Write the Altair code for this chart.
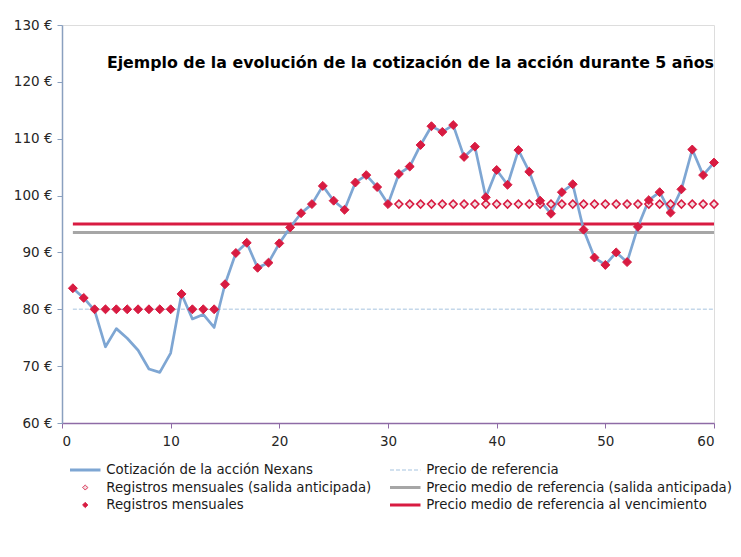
import altair as alt
import pandas as pd

# ---------------- data ----------------
meses = list(range(1, 61))
cotizacion = [83.7, 82.0, 79.8, 73.4, 76.6, 74.9, 72.8, 69.5, 68.9, 72.3,
              82.7, 78.3, 79.1, 76.8, 84.4, 89.9, 91.7, 87.3, 88.2, 91.6,
              94.4, 96.9, 98.5, 101.7, 99.1, 97.5, 102.3, 103.6, 101.5, 98.5,
              103.8, 105.1, 108.9, 112.2, 111.2, 112.4, 106.8, 108.6, 99.7, 104.5,
              101.9, 108.0, 104.2, 99.1, 96.8, 100.6, 102.0, 94.0, 89.1, 87.8,
              90.0, 88.3, 94.5, 99.2, 100.6, 97.0, 101.1, 108.1, 103.6, 105.8]
registros = [83.7, 82.0, 80.0, 80.0, 80.0, 80.0, 80.0, 80.0, 80.0, 80.0,
             82.7, 80.0, 80.0, 80.0, 84.4, 89.9, 91.7, 87.3, 88.2, 91.6,
             94.4, 96.9, 98.5, 101.7, 99.1, 97.5, 102.3, 103.6, 101.5, 98.5,
             103.8, 105.1, 108.9, 112.2, 111.2, 112.4, 106.8, 108.6, 99.7, 104.5,
             101.9, 108.0, 104.2, 99.1, 96.8, 100.6, 102.0, 94.0, 89.1, 87.8,
             90.0, 88.3, 94.5, 99.2, 100.6, 97.0, 101.1, 108.1, 103.6, 105.8]
meses_salida = list(range(31, 61))
registros_salida = [98.5] * 30

ref_series = ["Precio de referencia",
              "Precio medio de referencia (salida anticipada)",
              "Precio medio de referencia al vencimiento"]
ref_values = [80.0, 93.5, 95.0]
ref_desde = [1, 1, 1]
ref_hasta = [60, 60, 60]

S_COT = "Cotización de la acción Nexans"
S_REF = "Precio de referencia"
S_RSA = "Registros mensuales (salida anticipada)"
S_PMS = "Precio medio de referencia (salida anticipada)"
S_REG = "Registros mensuales"
S_PMV = "Precio medio de referencia al vencimiento"

# legend order (column-major: left column first, then right column)
series = [S_COT, S_RSA, S_REG, S_REF, S_PMS, S_PMV]
stroke_colors = ["#7ea6d3", "#d81b41", "#d81b41", "#c4d7ea", "#a6a6a6", "#d81b41"]
fill_colors = ["transparent", "#f1dfe3", "#d81b41", "transparent", "transparent", "transparent"]
shapes = ["stroke", "diamond", "diamond", "stroke", "stroke", "stroke"]
dashes = [[1, 0], [1, 0], [1, 0], [4, 2], [1, 0], [1, 0]]

y_ticks = [60, 70, 80, 90, 100, 110, 120, 130]
x_ticks = [0, 10, 20, 30, 40, 50, 60]
titulo = "Ejemplo de la evolución de la cotización de la acción durante 5 años"

# ---------------- tables ----------------
df_line = pd.DataFrame({"mes": meses, "valor": cotizacion, "serie": S_COT})
df_reg = pd.DataFrame({"mes": meses, "valor": registros, "serie": S_REG})
df_sal = pd.DataFrame({"mes": meses_salida, "valor": registros_salida, "serie": S_RSA})
df_ref = pd.DataFrame({"serie": ref_series, "valor": ref_values,
                       "mes": ref_desde, "mes2": ref_hasta})

FONT = "DejaVu Sans"

size_expr = ("(datum.value == '%s' ? 28 : datum.value == '%s' ? 26 : 930)" % (S_REG, S_RSA))
sw_expr = ("(datum.value == '%s' || datum.value == '%s' ? 1 : datum.value == '%s' ? 1.5 : 3)"
           % (S_REG, S_RSA, S_REF))

leg = alt.Legend(orient="none", legendX=6.25, legendY=436.5, columns=2, title=None,
                 padding=0, labelFont=FONT, labelFontSize=13.3, labelColor="#1a1a1a",
                 labelLimit=500, labelOffset=4, columnPadding=17, rowPadding=0.5,
                 clipHeight=17, symbolSize={"expr": size_expr},
                 symbolStrokeWidth={"expr": sw_expr}, symbolFillColor="transparent")

stroke_enc = alt.Stroke("serie:N", scale=alt.Scale(domain=series, range=stroke_colors), legend=leg)
fill_enc = alt.Fill("serie:N", scale=alt.Scale(domain=series, range=fill_colors), legend=leg)
shape_enc = alt.Shape("serie:N", scale=alt.Scale(domain=series, range=shapes), legend=leg)
dash_enc = alt.StrokeDash("serie:N", scale=alt.Scale(domain=series, range=dashes), legend=leg)

x_axis = alt.Axis(values=x_ticks, format="d", title=None, grid=False,
                  domainColor="#8e6ba6", tickColor="#8e6ba6", domainWidth=1.5,
                  tickSize=5, labelFont=FONT, labelFontSize=13.5, labelColor="#262626",
                  labelPadding=6)
y_axis = alt.Axis(values=y_ticks, labelExpr="datum.value + ' €'", title=None, grid=False,
                  domainColor="#8aa0bf", tickColor="#8aa0bf", domainWidth=1.5,
                  tickSize=5, labelFont=FONT, labelFontSize=13.5, labelColor="#262626",
                  labelPadding=5)

X = alt.X("mes:Q", scale=alt.Scale(domain=[0, 60], nice=False), axis=x_axis)
Y = alt.Y("valor:Q", scale=alt.Scale(domain=[60, 130], nice=False, zero=False), axis=y_axis)

line = alt.Chart(df_line).mark_line(strokeWidth=2.7, strokeJoin="round").encode(
    x=X, y=Y, stroke=stroke_enc)

rules_solid = alt.Chart(df_ref).transform_filter(
    alt.datum.serie != S_REF).mark_rule(strokeWidth=3).encode(
    x=X, x2="mes2:Q", y=Y, stroke=stroke_enc, strokeDash=dash_enc)

rule_dash = alt.Chart(df_ref).transform_filter(
    alt.datum.serie == S_REF).mark_rule(strokeWidth=1.5).encode(
    x=X, x2="mes2:Q", y=Y, stroke=stroke_enc, strokeDash=dash_enc)

pts_sal = alt.Chart(df_sal).mark_point(filled=True, size=64, strokeWidth=1.5, opacity=1).encode(
    x=X, y=Y, fill=fill_enc, stroke=stroke_enc, shape=shape_enc)

pts_reg = alt.Chart(df_reg).mark_point(filled=True, size=80, strokeWidth=1, opacity=1).encode(
    x=X, y=Y, fill=fill_enc, stroke=stroke_enc, shape=shape_enc)

chart = alt.layer(rule_dash, rules_solid, line, pts_sal, pts_reg).properties(
    width=652, height=398,
    autosize=alt.AutoSizeParams(type="none"),
    padding={"left": 54, "top": 17, "right": 19, "bottom": 126},
    title=alt.TitleParams(titulo, anchor="end", frame="group", font=FONT, fontSize=15.8,
                          fontWeight="bold", color="#000000", offset=0, dy=54),
).configure_view(stroke="transparent").configure(font=FONT, background="white")

chart.save("out.html", embed_options={"renderer": "svg", "actions": False})
